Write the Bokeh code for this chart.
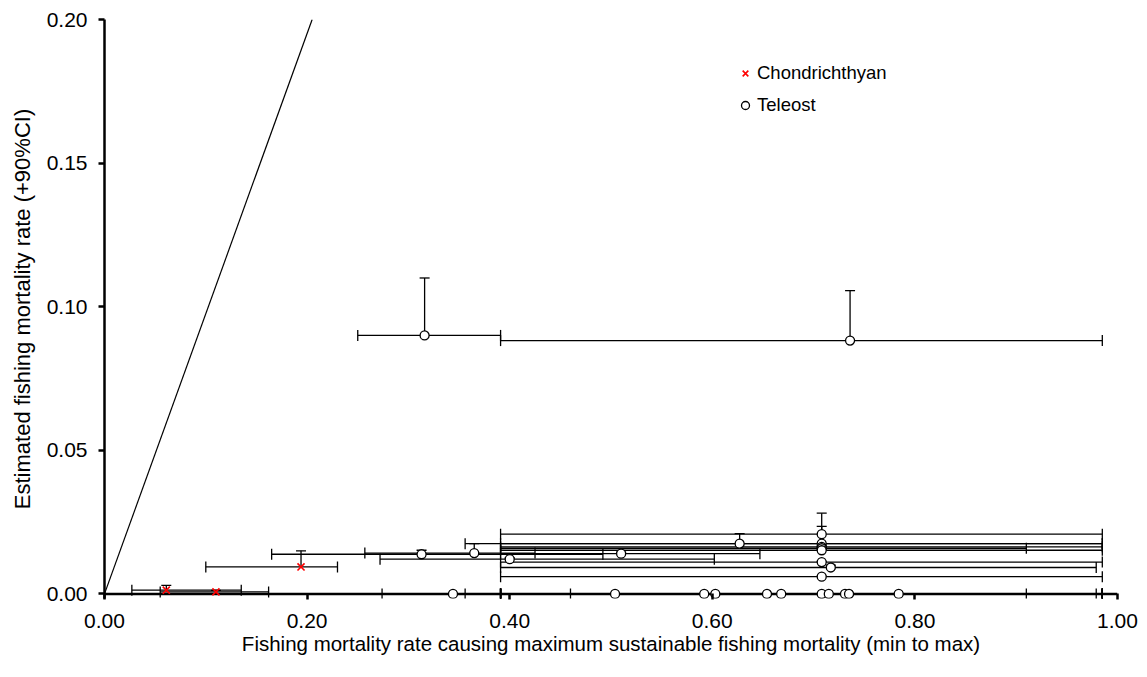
from bokeh.plotting import figure
from bokeh.models import (ColumnDataSource, Whisker, TeeHead, FixedTicker,
                          NumeralTickFormatter, Range1d, Legend, LegendItem, Span)
from bokeh.embed import file_html
from bokeh.resources import INLINE

# ---------------- data ----------------
# 1:1 reference line
ref_x = [0.0, 0.205]
ref_y = [0.0, 0.2]

# Chondrichthyans: point, min/max of x, upper 90% CI of y
chond_x = [0.061, 0.110, 0.194]
chond_y = [0.0013, 0.0007, 0.0094]
chond_lo = [0.027, 0.055, 0.100]
chond_hi = [0.135, 0.162, 0.230]
chond_up = [0.0030, 0.0012, 0.0150]

# Teleosts
tel_x = [0.316, 0.736, 0.313, 0.365, 0.400, 0.510, 0.627,
         0.708, 0.708, 0.708, 0.708, 0.708, 0.708, 0.708, 0.717,
         0.344, 0.504, 0.592, 0.603, 0.654, 0.668, 0.708, 0.715,
         0.731, 0.735, 0.784]
tel_y = [0.0900, 0.0882, 0.0138, 0.0142, 0.0121, 0.0140, 0.0175,
         0.0208, 0.0175, 0.0164, 0.0159, 0.0152, 0.0111, 0.0060, 0.0092,
         0.0, 0.0, 0.0, 0.0, 0.0, 0.0, 0.0, 0.0,
         0.0, 0.0, 0.0]
tel_lo = [0.250, 0.391, 0.165, 0.257, 0.272, 0.391, 0.356,
          0.391, 0.391, 0.391, 0.391, 0.391, 0.391, 0.391, 0.391,
          0.274, 0.391, 0.356, 0.391, 0.391, 0.391, 0.391, 0.391,
          0.391, 0.391, 0.391]
tel_hi = [0.391, 0.985, 0.492, 0.425, 0.602, 0.647, 0.985,
          0.985, 0.985, 0.985, 0.910, 0.985, 0.985, 0.985, 0.979,
          0.460, 0.985, 0.910, 0.985, 0.979, 0.985, 0.985, 0.985,
          0.985, 0.985, 0.985]
tel_up = [0.1100, 0.1056, 0.0152, 0.0175, 0.0125, 0.0145, 0.0210,
          0.0281, 0.0235, 0.0166, 0.0161, 0.0154, 0.0113, 0.0062, 0.0100,
          0.0, 0.0, 0.0, 0.0, 0.0, 0.0, 0.0, 0.0,
          0.0, 0.0, 0.0]

x_ticks = [0.0, 0.2, 0.4, 0.6, 0.8, 1.0]
y_ticks = [0.0, 0.05, 0.10, 0.15, 0.20]

FONT = "Liberation Sans"

# ---------------- figure ----------------
p = figure(width=1147, height=677, output_backend="svg", toolbar_location=None,
           x_range=Range1d(0, 1.0), y_range=Range1d(-0.0016, 0.2),
           min_border_left=104, min_border_right=30, min_border_top=19,
           min_border_bottom=79)
p.outline_line_color = None
p.xgrid.visible = False
p.ygrid.visible = False
p.background_fill_color = "white"
p.border_fill_color = "white"

for ax in (p.xaxis[0], p.yaxis[0]):
    ax.axis_line_width = 2.5
    ax.axis_line_color = "black"
    ax.major_tick_line_width = 2.5
    ax.major_tick_line_color = "black"
    ax.minor_tick_line_color = None
    ax.major_label_text_font = FONT
    ax.major_label_text_font_size = "21px"
    ax.major_label_text_color = "black"
    ax.axis_label_text_font = FONT
    ax.axis_label_text_font_style = "normal"
    ax.axis_label_text_color = "black"
    ax.formatter = NumeralTickFormatter(format="0.00")

xa = p.xaxis[0]
ya = p.yaxis[0]
xa.ticker = FixedTicker(ticks=x_ticks)
ya.ticker = FixedTicker(ticks=y_ticks)
xa.axis_line_color = None          # drawn as a span at y = 0 instead
xa.major_tick_in = 5
xa.major_tick_out = 1
ya.major_tick_in = 0
ya.major_tick_out = 6
xa.axis_label = "Fishing mortality rate causing maximum sustainable fishing mortality (min to max)"
ya.axis_label = "Estimated fishing mortality rate (+90%CI)"
xa.axis_label_text_font_size = "20.5px"
ya.axis_label_text_font_size = "22px"
xa.major_label_standoff = 14
ya.major_label_standoff = 11
xa.axis_label_standoff = 1
ya.axis_label_standoff = 9

# x axis line at y = 0
p.add_layout(Span(location=0, dimension="width", line_color="black",
                  line_width=2.5, level="underlay"))

# reference line
p.line(ref_x, ref_y, line_color="black", line_width=1.2)

def add_series(xs, ys, lo, hi, up):
    src = ColumnDataSource(dict(x=xs, y=ys, lo=lo, hi=hi))
    p.add_layout(Whisker(source=src, base="y", lower="lo", upper="hi",
                         dimension="width", line_color="black", line_width=1.3,
                         lower_head=TeeHead(size=11, line_color="black", line_width=1.3),
                         upper_head=TeeHead(size=11, line_color="black", line_width=1.3)))
    idx = [i for i in range(len(xs)) if up[i] > ys[i]]
    vsrc = ColumnDataSource(dict(x=[xs[i] for i in idx], y=[ys[i] for i in idx],
                                 up=[up[i] for i in idx]))
    p.add_layout(Whisker(source=vsrc, base="x", lower="y", upper="up",
                         dimension="height", line_color="black", line_width=1.3,
                         lower_head=None,
                         upper_head=TeeHead(size=10, line_color="black", line_width=1.3)))
    return src

csrc = add_series(chond_x, chond_y, chond_lo, chond_hi, chond_up)
tsrc = add_series(tel_x, tel_y, tel_lo, tel_hi, tel_up)

r_t = p.scatter("x", "y", source=tsrc, marker="circle", size=9,
                fill_color="white", line_color="black", line_width=1.3)
r_c = p.scatter("x", "y", source=csrc, marker="x", size=10,
                line_color="red", line_width=1.6)

legend = Legend(items=[LegendItem(label="Chondrichthyan", renderers=[r_c]),
                       LegendItem(label="Teleost", renderers=[r_t])],
                location=(631, 482), border_line_color=None,
                background_fill_alpha=0, label_text_font=FONT,
                label_text_color="black",
                label_text_font_size="18.5px", glyph_width=20, glyph_height=20,
                label_standoff=2, spacing=10, padding=0, margin=0)
p.add_layout(legend)

open("out.html", "w").write(file_html(p, INLINE))
